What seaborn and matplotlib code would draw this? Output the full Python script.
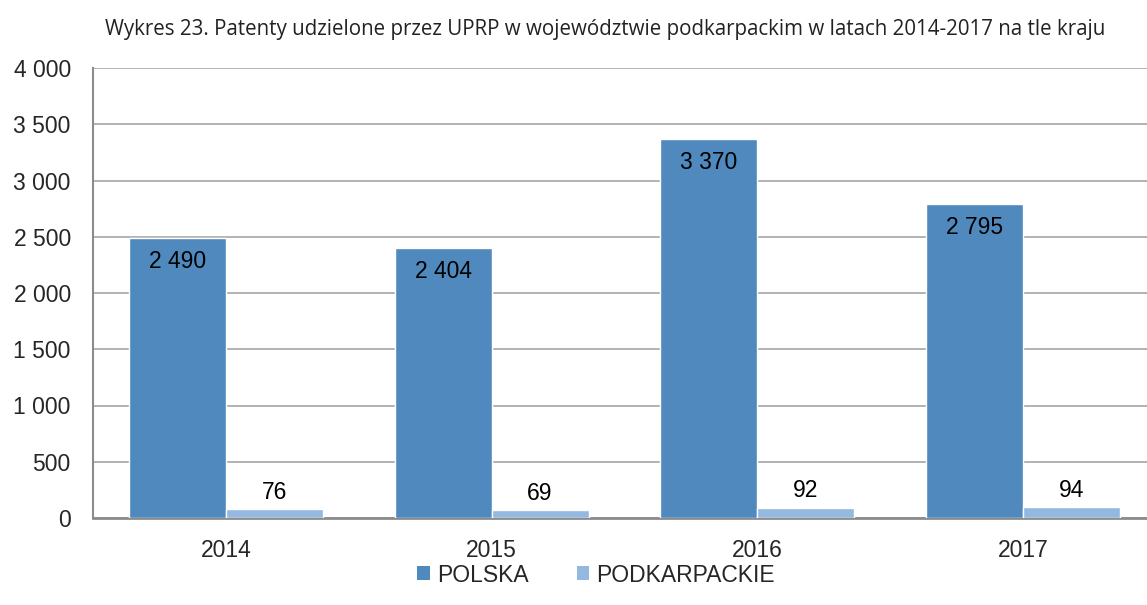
import matplotlib
matplotlib.use("Agg")
import matplotlib.pyplot as plt
from matplotlib.patches import Patch
import seaborn as sns
import pandas as pd

years = ["2014", "2015", "2016", "2017"]
polska = [2490, 2404, 3370, 2795]
podkarpackie = [76, 69, 92, 94]
series_names = ["POLSKA", "PODKARPACKIE"]
y_ticks = [0, 500, 1000, 1500, 2000, 2500, 3000, 3500, 4000]
title = "Wykres 23. Patenty udzielone przez UPRP w województwie podkarpackim w latach 2014-2017 na tle kraju"

colors = ["#4F89BD", "#95B8E0"]

df = pd.DataFrame({
    "year": years * 2,
    "value": polska + podkarpackie,
    "series": [series_names[0]] * len(years) + [series_names[1]] * len(years),
})

sns.set_theme(style="white")
plt.rcParams["font.family"] = ["Liberation Sans", "DejaVu Sans"]

FS = 16.5


def fmt(v):
    return f"{int(v):,}".replace(",", " ")


fig = plt.figure(figsize=(11.47, 6.05), dpi=100)
# plot area runs past the right edge of the canvas
ax = fig.add_axes([93 / 1147, 87 / 605, 1063 / 1147, 450 / 605])

sns.barplot(data=df, x="year", y="value", hue="series", palette=colors,
            saturation=1, width=0.73, edgecolor="white", linewidth=1.0,
            ax=ax, legend=False, zorder=3)

ax.set_ylim(0, 4000)
ax.set_yticks(y_ticks)
ax.set_yticklabels([fmt(t) for t in y_ticks], fontsize=FS)
ax.tick_params(axis="x", labelsize=FS, length=0, pad=15)
ax.tick_params(axis="y", length=0, pad=16)
ax.set_xlabel("")
ax.set_ylabel("")
ax.yaxis.grid(True, color="#a6a6a6", linewidth=1.2, zorder=0)
ax.set_axisbelow(True)
for s in ["top", "right"]:
    ax.spines[s].set_visible(False)
ax.spines["left"].set_color("#8c8c8c")
ax.spines["left"].set_linewidth(1.5)
ax.spines["bottom"].set_color("#8c8c8c")
ax.spines["bottom"].set_linewidth(2.0)

# value labels: inside the tall bars, above the short ones
for i, cont in enumerate(ax.containers):
    vals = polska if i == 0 else podkarpackie
    dy = -17 if i == 0 else 12
    for bar, v in zip(cont, vals):
        cx = bar.get_x() + bar.get_width() / 2
        ax.annotate(fmt(v), (cx, v), xytext=(0, dy), textcoords="offset points",
                    ha="center", va="center", fontsize=FS, color="black")

fig.text(605 / 1147, 1 - 30 / 605, title, ha="center", va="center", fontsize=14.8,
         family=["Open Sans", "DejaVu Sans"], color="#222222")

handles = [Patch(facecolor=c, edgecolor="none") for c in colors]
fig.legend(handles, series_names, loc="center", bbox_to_anchor=(596 / 1147, 1 - 575 / 605),
           ncol=2, frameon=False, fontsize=FS, handlelength=0.55, handleheight=0.55,
           handletextpad=0.3, columnspacing=2.1)

fig.savefig("out.png", dpi=100)
